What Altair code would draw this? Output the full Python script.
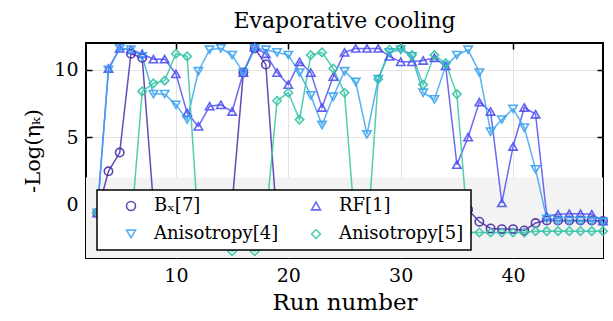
import altair as alt
import pandas as pd

runs = list(range(3, 49))
bx = [-0.65, 2.45, 3.85, 11.2, 10.9, 0.0, -1.6, -2.0, -2.1, -2.0, -2.1, -1.9, 0.0, 9.8, 11.6, 10.4,
      -1.5, -2.0, -2.1, -2.0, -2.2, -2.0, -2.1, -2.0, -2.2, -2.0, -2.1, -1.9, -2.0, -2.1, -2.0, -1.8,
      -1.0, -0.4, -1.3, -1.8, -1.85, -1.85, -1.95, -1.4, -1.2, -1.2, -1.2, -1.2, -1.2, -1.25]
rf = [-0.65, 10.1, 11.6, 11.5, 11.2, 10.8, 10.8, 9.7, 6.8, 5.8, 7.3, 7.4, 6.9, 9.8, 11.7, 11.2,
      9.8, 8.9, 10.6, 9.8, 7.2, 9.5, 11.3, 11.6, 11.6, 11.6, 11.0, 10.6, 10.6, 10.7, 10.9, 10.3,
      2.95, 5.0, 7.6, 6.9, 0.1, 4.3, 7.2, 6.7, -0.9, -0.75, -0.7, -0.7, -0.75, -1.25]
aniso4 = [-0.65, 10.0, 11.6, 11.5, 11.0, 8.2, 8.2, 7.4, 6.3, 9.9, 11.5, 11.6, 11.1, 9.8, 11.6, 11.5,
          11.3, 11.1, 9.8, 8.1, 5.9, 8.0, 9.9, 9.1, 5.2, 9.3, 11.3, 11.5, 11.0, 8.3, 7.8, 10.3,
          11.1, 11.5, 9.8, 5.4, 6.3, 7.1, 5.7, 2.6, -1.1, -1.25, -1.25, -1.25, -1.25, -1.3]
aniso5 = [-0.65, -2.0, -2.0, -1.9, 8.4, 9.0, 9.2, 11.2, 11.0, -1.8, -2.6, -2.8, -3.5, -2.8, -3.5, -1.2,
          7.7, 8.3, 6.3, 11.1, 11.3, 10.1, 8.3, -2.3, -2.9, 9.3, 11.5, 11.6, 11.1, 8.9, 11.1, 10.5,
          8.2, -2.1, -2.1, -2.1, -2.1, -2.1, -2.1, -2.0, -2.0, -2.0, -2.0, -2.0, -2.0, -2.0]

series_names = ["B\u2093[7]", "RF[1]", "Anisotropy[4]", "Anisotropy[5]"]
colors = ["#4a2ca8", "#5050f2", "#3ca4ee", "#33c4a4"]
shapes = ["circle", "triangle-up", "triangle-down", "diamond"]
# legend fills column by column: order so rows read B, RF / Aniso4, Aniso5
legend_order = [0, 2, 1, 3]
x_domain = [2, 48]
y_domain = [-4, 12]
band = [-4, 2]
x_ticks = [10, 20, 30, 40]
y_ticks = [0, 5, 10]

rows = []
for name, vals in zip(series_names, [bx, rf, aniso4, aniso5]):
    for r, v in zip(runs, vals):
        rows.append({"run": r, "eta": v, "series": name})
df = pd.DataFrame(rows)

dom = [series_names[i] for i in legend_order]
col_range = [colors[i] for i in legend_order]
shp_range = [shapes[i] for i in legend_order]

FONT = "DejaVu Serif"
xs = alt.Scale(domain=x_domain, nice=False, zero=False)
ys = alt.Scale(domain=y_domain, nice=False, zero=False)

common = dict(grid=True, gridColor="#e2e2e2", domain=False, tickSize=6, offset=-6, tickColor="black",
              tickWidth=1.5, labelPadding=8, labelFontSize=19, labelFont=FONT, titleFont=FONT,
              labelColor="black", titleColor="black", titleFontWeight="normal",
              labelFontWeight="normal", format="d")
x_axis = alt.Axis(values=x_ticks, title="Run number", titleFontSize=23, titlePadding=6, **common)
y_axis = alt.Axis(values=y_ticks, title="-Log(\u03b7\u2096)", titleFontSize=21, titlePadding=10, **common)
x_top = alt.Axis(values=x_ticks, orient="top", labels=False, title=None, grid=False, domain=False,
                 tickSize=6, offset=-6, tickColor="black", tickWidth=1.5)
y_right = alt.Axis(values=y_ticks, orient="right", labels=False, title=None, grid=False, domain=False,
                   tickSize=6, offset=-6, tickColor="black", tickWidth=1.5)

band_layer = alt.Chart(pd.DataFrame({"a": [0]})).mark_rect(color="#f3f3f3").encode(
    x=alt.XDatum(x_domain[0], type="quantitative", scale=xs, axis=x_top),
    x2=alt.X2Datum(x_domain[1]),
    y=alt.YDatum(band[0], type="quantitative", scale=ys, axis=y_right),
    y2=alt.Y2Datum(band[1]),
)

legend = alt.Legend(orient="none", legendX=11, legendY=147, columns=2, title=None,
                    fillColor="white", strokeColor="black", padding=7, symbolOffset=18,
                    labelOffset=14, columnPadding=10, rowPadding=10, labelFontSize=18,
                    labelFont=FONT, labelColor="black", labelFontWeight="normal",
                    symbolSize=80, symbolStrokeWidth=1.6, symbolFillColor="white")

color = alt.Color("series:N", sort=dom, scale=alt.Scale(domain=dom, range=col_range), legend=legend)
shape = alt.Shape("series:N", sort=dom, scale=alt.Scale(domain=dom, range=shp_range), legend=legend)

lines = alt.Chart(df).mark_line(strokeWidth=1.5, opacity=0.85).encode(
    x=alt.X("run:Q", scale=xs, axis=x_axis),
    y=alt.Y("eta:Q", scale=ys, axis=y_axis),
    color=color, detail="series:N",
)
points = alt.Chart(df).mark_point(filled=False, size=70, strokeWidth=1.6, opacity=0.9).encode(
    x=alt.X("run:Q", scale=xs, axis=None),
    y=alt.Y("eta:Q", scale=ys, axis=None),
    color=color, shape=shape,
)

chart = alt.layer(band_layer, lines, points).resolve_axis(
    x="independent", y="independent"
).properties(
    width=517, height=215,
    autosize=alt.AutoSizeParams(type="none"),
    padding={"left": 86, "top": 43, "right": 10, "bottom": 63},
    title=alt.TitleParams("Evaporative cooling", font=FONT, fontSize=22, fontWeight="normal",
                          anchor="middle", offset=7, color="black"),
).configure_view(stroke="black", strokeWidth=2).configure_legend(strokeWidth=1.5)

chart.save("out.html", embed_options={"renderer": "svg", "actions": False})
